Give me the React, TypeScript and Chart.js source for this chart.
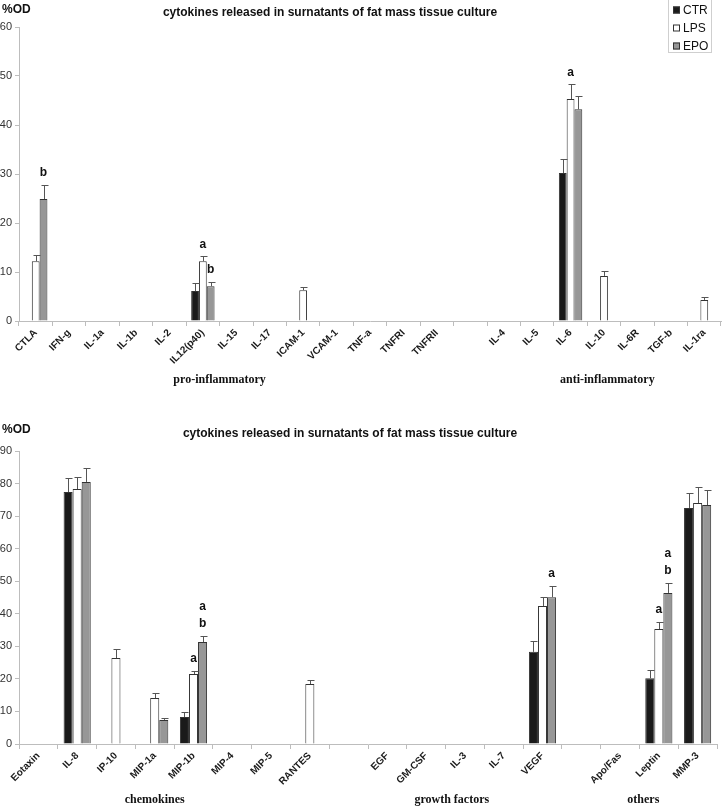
import React, { useEffect, useRef } from 'react';
import { Chart, registerables } from 'chart.js';
Chart.register(...registerables);

const seriesNames = ['CTR', 'LPS', 'EPO'];
const seriesFill = ['#1a1a1a', '#ffffff', '#979797'];

const chartTitle = 'cytokines released in surnatants of fat mass tissue culture';
const yLabel = '%OD';

// ---------- top panel ----------
const topCategories = ['CTLA', 'IFN-g', 'IL-1a', 'IL-1b', 'IL-2', 'IL12(p40)', 'IL-15', 'IL-17', 'ICAM-1', 'VCAM-1', 'TNF-a', 'TNFRI', 'TNFRII', '', 'IL-4', 'IL-5', 'IL-6', 'IL-10', 'IL-6R', 'TGF-b', 'IL-1ra'];
const topCTR = [null, null, null, null, null, 6.1, null, null, null, null, null, null, null, null, null, null, 30.2, null, null, null, null];
const topCTRErr = [null, null, null, null, null, 1.6, null, null, null, null, null, null, null, null, null, null, 2.8, null, null, null, null];
const topLPS = [12.2, null, null, null, null, 12.2, null, null, 6.3, null, null, null, null, null, null, null, 45.3, 9.2, null, null, 4.3];
const topLPSErr = [1.2, null, null, null, null, 1.0, null, null, 0.7, null, null, null, null, null, null, null, 3.0, 1.0, null, null, 0.6];
const topEPO = [24.9, null, null, null, null, 7.1, null, null, null, null, null, null, null, null, null, null, 43.2, null, null, null, null];
const topEPOErr = [2.9, null, null, null, null, 0.9, null, null, null, null, null, null, null, null, null, null, 2.7, null, null, null, null];
const topCTRMarks = ['', '', '', '', '', '', '', '', '', '', '', '', '', '', '', '', '', '', '', '', ''];
const topLPSMarks = ['', '', '', '', '', 'a', '', '', '', '', '', '', '', '', '', '', 'a', '', '', '', ''];
const topEPOMarks = ['b', '', '', '', '', 'b', '', '', '', '', '', '', '', '', '', '', '', '', '', '', ''];
const topYTicksMax = 60;
const topGroups = [
  { label: 'pro-inflammatory', at: 5.5 },
  { label: 'anti-inflammatory', at: 17.1 },
];

// ---------- bottom panel ----------
const botCategories = ['Eotaxin', 'IL-8', 'IP-10', 'MIP-1a', 'MIP-1b', 'MIP-4', 'MIP-5', 'RANTES', '', 'EGF', 'GM-CSF', 'IL-3', 'IL-7', 'VEGF', '', 'Apo/Fas', 'Leptin', 'MMP-3'];
const botCTR = [null, 77.4, null, null, 8.3, null, null, null, null, null, null, null, null, 28.3, null, null, 20.2, 72.5];
const botCTRErr = [null, 4.3, null, null, 1.5, null, null, null, null, null, null, null, null, 3.3, null, null, 2.5, 4.5];
const botLPS = [null, 78.3, 26.4, 14.1, 21.5, null, null, 18.4, null, null, null, null, null, 42.4, null, null, 35.3, 74.0];
const botLPSErr = [null, 3.7, 2.8, 1.5, 0.9, null, null, 1.2, null, null, null, null, null, 2.7, null, null, 2.3, 4.9];
const botEPO = [null, 80.5, null, 7.4, 31.3, null, null, null, null, null, null, null, null, 45.1, null, null, 46.4, 73.4];
const botEPOErr = [null, 4.2, null, 0.6, 1.9, null, null, null, null, null, null, null, null, 3.4, null, null, 3.0, 4.6];
const botCTRMarks = ['', '', '', '', '', '', '', '', '', '', '', '', '', '', '', '', '', ''];
const botLPSMarks = ['', '', '', '', 'a', '', '', '', '', '', '', '', '', '', '', '', 'a', ''];
const botEPOMarks = ['', '', '', '', 'ab', '', '', '', '', '', '', '', '', 'a', '', '', 'ab', ''];
const botYTicksMax = 90;
const botGroups = [
  { label: 'chemokines', at: 3.0 },
  { label: 'growth factors', at: 10.66 },
  { label: 'others', at: 15.6 },
];

const SANS = 'Arial, "Liberation Sans", sans-serif';
const SERIF = '"Times New Roman", "Liberation Serif", serif';
const AXIS_GREY = '#bdbdbd';

function makeDatasets(vals: any[][], errs: any[][], marks: string[][]) {
  return vals.map((v, i) => ({
    label: seriesNames[i],
    data: v,
    errors: errs[i],
    marks: marks[i],
    backgroundColor: seriesFill[i],
    borderColor: '#333333',
    borderWidth: 1,
    categoryPercentage: 0.7,
    barPercentage: 1.0,
  }));
}

const errorBarPlugin = {
  id: 'errorBars',
  afterDatasetsDraw(chart: any) {
    const ctx = chart.ctx;
    const yScale = chart.scales.y;
    ctx.save();
    chart.data.datasets.forEach((ds: any, di: number) => {
      const meta = chart.getDatasetMeta(di);
      meta.data.forEach((el: any, j: number) => {
        const v = ds.data[j];
        if (v === null || v === undefined) return;
        const e = ds.errors ? ds.errors[j] : null;
        let topY = el.y;
        if (e) {
          const ye = yScale.getPixelForValue(v + e);
          const x = Math.round(el.x) + 0.5;
          ctx.strokeStyle = '#555555';
          ctx.lineWidth = 1;
          ctx.beginPath();
          ctx.moveTo(x, el.y);
          ctx.lineTo(x, Math.round(ye) + 0.5);
          ctx.moveTo(x - 3, Math.round(ye) + 0.5);
          ctx.lineTo(x + 4, Math.round(ye) + 0.5);
          ctx.stroke();
          topY = ye;
        }
        const m = ds.marks ? ds.marks[j] : '';
        if (m) {
          ctx.fillStyle = '#111111';
          ctx.font = `bold 12px ${SANS}`;
          ctx.textAlign = 'center';
          ctx.textBaseline = 'middle';
          const chars = m.split('');
          chars.forEach((c: string, k: number) => {
            const level = chars.length - 1 - k;
            ctx.fillText(c, el.x, topY - 12 - level * 17);
          });
        }
      });
    });
    ctx.restore();
  },
};

function annotationPlugin(opts: any) {
  return {
    id: 'annot',
    afterDraw(chart: any) {
      const ctx = chart.ctx;
      const xScale = chart.scales.x;
      ctx.save();
      ctx.fillStyle = '#111111';
      ctx.textBaseline = 'alphabetic';
      ctx.font = `bold 12px ${SANS}`;
      ctx.textAlign = 'left';
      ctx.fillText(yLabel, 2, opts.yLabelBase);
      ctx.textAlign = 'center';
      ctx.fillText(chartTitle, opts.titleX, opts.titleBase);
      ctx.font = `bold 12px ${SERIF}`;
      opts.groups.forEach((g: any) => {
        ctx.fillText(g.label, xScale.getPixelForValue(g.at), opts.groupBase);
      });
      if (opts.legend) {
        const lx = 668, ly = 0, lw = 43, lh = 53;
        ctx.strokeStyle = '#cfcfcf';
        ctx.lineWidth = 1;
        ctx.strokeRect(lx + 0.5, ly - 0.5, lw, lh);
        ctx.font = `12px ${SANS}`;
        ctx.textAlign = 'left';
        ctx.textBaseline = 'middle';
        chart.data.datasets.forEach((ds: any, i: number) => {
          const cy = 10 + i * 18;
          ctx.fillStyle = ds.backgroundColor;
          ctx.fillRect(673, cy - 3.5, 7, 7);
          ctx.strokeStyle = '#333333';
          ctx.strokeRect(673.5, cy - 3, 6, 6);
          ctx.fillStyle = '#111111';
          ctx.fillText(ds.label, 683, cy + 0.5);
        });
      }
      ctx.restore();
    },
  };
}

function makeConfig(cats: string[], datasets: any[], ymax: number, padTop: number, padRight: number, xHeight: number, yWidth: number, annot: any) {
  return {
    type: 'bar',
    data: { labels: cats, datasets },
    options: {
      animation: false,
      responsive: false,
      devicePixelRatio: 1,
      layout: { padding: { top: padTop, right: padRight, left: 0, bottom: 0 } },
      plugins: { legend: { display: false }, tooltip: { enabled: false }, title: { display: false } },
      scales: {
        x: {
          grid: { drawOnChartArea: false, color: AXIS_GREY, tickLength: 5, offset: true },
          border: { color: AXIS_GREY },
          ticks: {
            autoSkip: false,
            maxRotation: 45,
            minRotation: 45,
            color: '#1a1a1a',
            padding: 1,
            font: { family: SANS, size: 10, weight: 'bold' },
          },
          afterFit: (s: any) => { s.height = xHeight; },
        },
        y: {
          min: 0,
          max: ymax,
          ticks: { stepSize: 10, color: '#333333', padding: 3, font: { family: SANS, size: 11 } },
          grid: { drawOnChartArea: false, color: AXIS_GREY, tickLength: 4 },
          border: { color: AXIS_GREY },
          afterFit: (s: any) => { s.width = yWidth; },
        },
      },
    },
    plugins: [errorBarPlugin, annotationPlugin(annot)],
  } as any;
}

export default function App() {
  const topRef = useRef<HTMLCanvasElement>(null);
  const botRef = useRef<HTMLCanvasElement>(null);

  useEffect(() => {
    document.body.style.margin = '0';
    const top = new Chart(
      topRef.current as HTMLCanvasElement,
      makeConfig(
        topCategories,
        makeDatasets([topCTR, topLPS, topEPO], [topCTRErr, topLPSErr, topEPOErr], [topCTRMarks, topLPSMarks, topEPOMarks]),
        topYTicksMax, 27, 1, 79, 19,
        { yLabelBase: 13, titleX: 330, titleBase: 16, groupBase: 383, groups: topGroups, legend: true }
      )
    );
    const bot = new Chart(
      botRef.current as HTMLCanvasElement,
      makeConfig(
        botCategories,
        makeDatasets([botCTR, botLPS, botEPO], [botCTRErr, botLPSErr, botEPOErr], [botCTRMarks, botLPSMarks, botEPOMarks]),
        botYTicksMax, 51, 5, 62, 19,
        { yLabelBase: 33, titleX: 350, titleBase: 37, groupBase: 403, groups: botGroups, legend: false }
      )
    );
    return () => { top.destroy(); bot.destroy(); };
  }, []);

  return (
    <div style={{ width: 722, height: 806, background: '#ffffff', position: 'relative' }}>
      <canvas ref={topRef} width={722} height={400} style={{ display: 'block', width: 722, height: 400 }} />
      <canvas ref={botRef} width={722} height={406} style={{ display: 'block', width: 722, height: 406 }} />
    </div>
  );
}
